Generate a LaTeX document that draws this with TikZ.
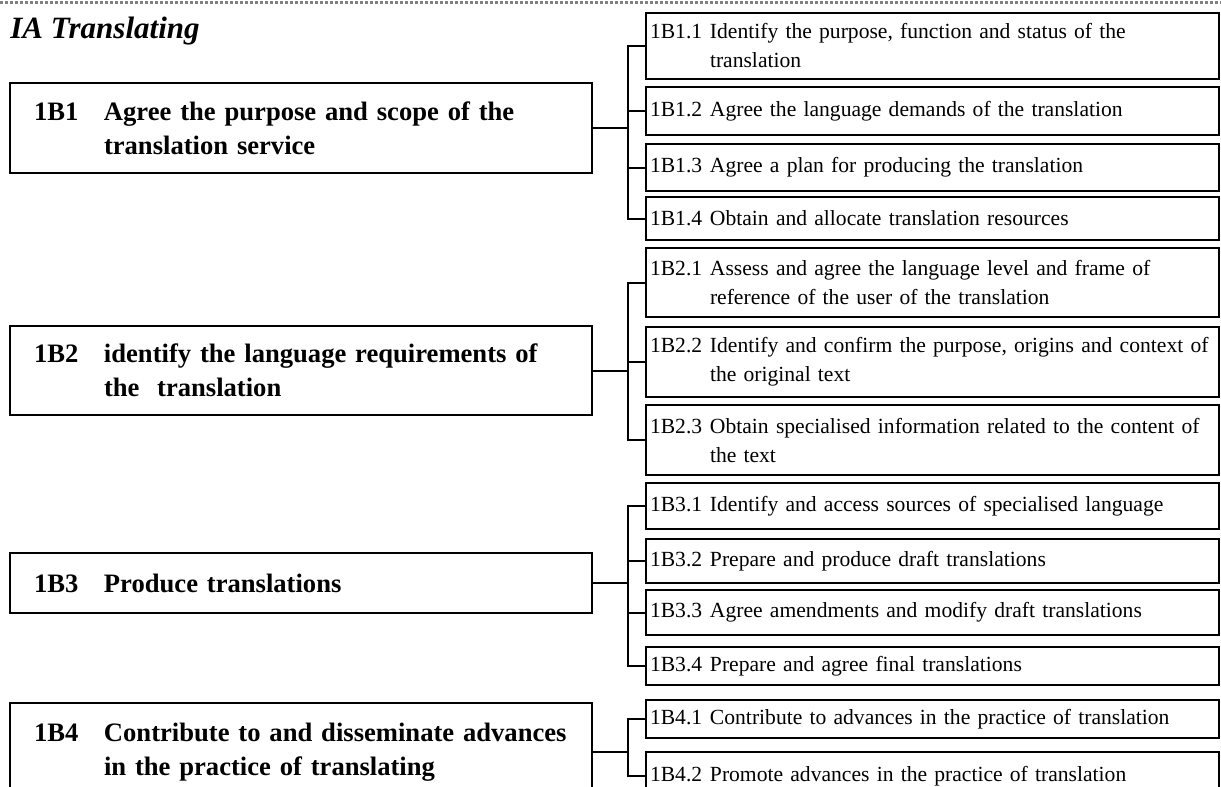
\documentclass[tikz,border=0pt]{standalone}
\usepackage{fontspec}
\setmainfont{Liberation Serif}
\usetikzlibrary{positioning,calc}

\newcommand{\unitline}[2]{\hspace*{6pt}\makebox[35pt][l]{#1}\parbox[t]{238pt}{\raggedright #2}}
\newcommand{\elemline}[2]{\makebox[30pt][l]{#1}\parbox[t]{252pt}{\raggedright #2}}

\begin{document}
\begin{tikzpicture}[x=0.5pt,y=-0.5pt,
  unitbox/.style={draw,line width=1pt,minimum width=291pt,text width=279pt,
                  inner xsep=6pt,inner ysep=0pt,align=left,
                  font=\fontsize{13.3}{17}\selectfont\bfseries},
  elembox/.style={draw,line width=1pt,minimum width=286.5pt,text width=282.5pt,
                  inner xsep=2pt,inner ysep=0pt,align=left,
                  font=\fontsize{10.8}{14.5}\selectfont},
  link/.style={line width=1pt}
]
\useasboundingbox (0,0) rectangle (1221,787);
\clip (0,0) rectangle (1221,787);

\draw[gray,line width=1.5pt,densely dotted] (0,2) -- (1221,2);
\node[anchor=base west,inner sep=0pt,
      font=\fontsize{15.5}{18}\selectfont\bfseries\itshape] (title) at (10,39) {IA Translating};

% units
\node[unitbox,minimum height=45pt]   (u1) at (301,128)
  {\unitline{1B1}{Agree the purpose and scope of the\\translation service}};
\node[unitbox,minimum height=44.5pt] (u2) at (301,370.5)
  {\unitline{1B2}{identify the language requirements of\\the\ \ translation}};
\node[unitbox,minimum height=30pt]   (u3) at (301,583)
  {\unitline{1B3}{Produce translations}};
\node[unitbox,minimum height=49pt]   (u4) at (301,752)
  {\unitline{1B4}{Contribute to and disseminate advances\\in the practice of translating}};

% elements
\node[elembox,minimum height=33pt]   (e11) at (932.5,46)
  {\elemline{1B1.1}{Identify the purpose, function and status of the\\translation}};
\node[elembox,minimum height=24pt]   (e12) at (932.5,111)
  {\elemline{1B1.2}{Agree the language demands of the translation}};
\node[elembox,minimum height=23.5pt] (e13) at (932.5,167.5)
  {\elemline{1B1.3}{Agree a plan for producing the translation}};
\node[elembox,minimum height=21.5pt] (e14) at (932.5,218.5)
  {\elemline{1B1.4}{Obtain and allocate translation resources}};
\node[elembox,minimum height=34.5pt] (e21) at (932.5,282.5)
  {\elemline{1B2.1}{Assess and agree the language level and frame of\\reference of the user of the translation}};
\node[elembox,minimum height=35pt]   (e22) at (932.5,362)
  {\elemline{1B2.2}{Identify and confirm the purpose, origins and context of\\the original text}};
\node[elembox,minimum height=35pt]   (e23) at (932.5,440)
  {\elemline{1B2.3}{Obtain specialised information related to the content of\\the text}};
\node[elembox,minimum height=23pt]   (e31) at (932.5,506)
  {\elemline{1B3.1}{Identify and access sources of specialised language}};
\node[elembox,minimum height=22pt]   (e32) at (932.5,561)
  {\elemline{1B3.2}{Prepare and produce draft translations}};
\node[elembox,minimum height=22.5pt] (e33) at (932.5,612.5)
  {\elemline{1B3.3}{Agree amendments and modify draft translations}};
\node[elembox,minimum height=19pt]   (e34) at (932.5,666)
  {\elemline{1B3.4}{Prepare and agree final translations}};
\node[elembox,minimum height=19pt]   (e41) at (932.5,719)
  {\elemline{1B4.1}{Contribute to advances in the practice of translation}};
\node[elembox,minimum height=24pt]   (e42) at (932.5,776)
  {\elemline{1B4.2}{Promote advances in the practice of translation}};

% brackets
\coordinate (j) at (628,0);
\foreach \u/\a/\b in {u1/e11/e14,u2/e21/e23,u3/e31/e34,u4/e41/e42}
  \draw[link] (\u.east) -- (\u.east -| j)
              (\a.west) -- (\a.west -| j) -- (\b.west -| j) -- (\b.west);
\foreach \e in {e12,e13,e22,e32,e33}
  \draw[link] (\e.west) -- (\e.west -| j);
\end{tikzpicture}
\end{document}
